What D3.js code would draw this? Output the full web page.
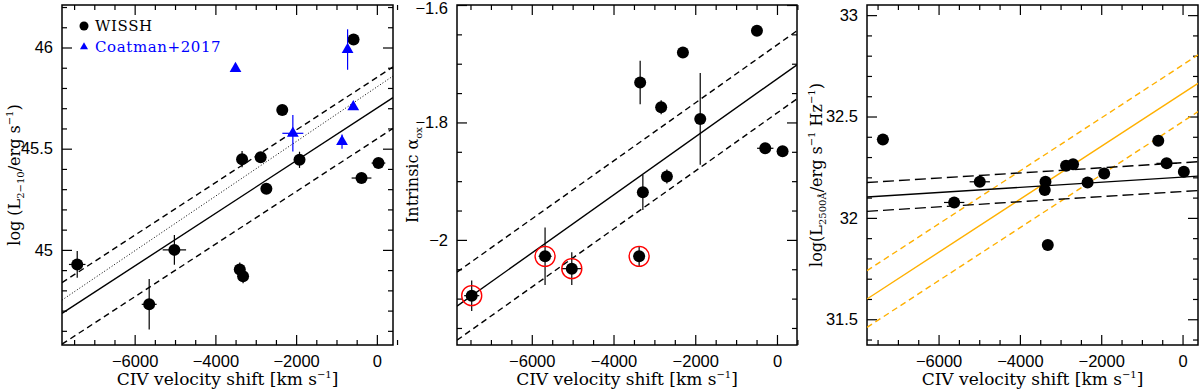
<!DOCTYPE html>
<html><head><meta charset="utf-8">
<script src="https://cdn.jsdelivr.net/npm/d3@7"></script>
<style>body{margin:0;background:#fff}svg{display:block}</style>
</head><body>
<svg id="c" width="1200" height="389"></svg>
<script>
// ---------------- DATA ----------------
// Panel 1: log L(2-10 keV) vs CIV velocity shift
const p1WisshX    = [-7423, -5640, -5016, -3396, -3314, -3339, -2878, -2343, -2737, -1916, -577, -380, 40];
const p1WisshY    = [44.928, 44.731, 45.0, 44.903, 44.870, 45.448, 45.458, 45.691, 45.302, 45.445, 46.039, 45.355, 45.429];
const p1WisshXErr = [205, 185, 290, 0, 0, 0, 80, 80, 100, 0, 60, 245, 170];
const p1WisshYErr = [0.066, 0.125, 0.074, 0.035, 0.035, 0.04, 0.012, 0.01, 0.012, 0.04, 0.01, 0.01, 0.01];
const p1CoatX     = [-3502, -2081, -725, -584, -863];
const p1CoatY     = [45.896, 45.576, 45.99, 45.707, 45.535];
const p1CoatXErr  = [0, 260, 0, 0, 0];
const p1CoatYErr  = [0, 0.09, 0.1, 0, 0.035];
// fit lines: [intercept at v=0, slope per km/s, scatter]
const p1Fit       = [45.70, 1.30e-4, 0.152];
const p1FitDotted = [45.805, 1.35e-4];

// Panel 2: intrinsic alpha_ox
const p2X    = [-7470, -5675, -5021, -3373, -3348, -3282, -2834, -2694, -2302, -1878, -490, -287, 137];
const p2Y    = [-2.095, -2.028, -2.049, -2.028, -1.732, -1.919, -1.774, -1.892, -1.681, -1.794, -1.644, -1.844, -1.849];
const p2XErr = [185, 160, 245, 60, 0, 0, 100, 100, 100, 0, 60, 200, 0];
const p2YErr = [0.026, 0.049, 0.028, 0.017, 0.037, 0.03, 0.012, 0.012, 0.005, 0.078, 0.005, 0.005, 0.005];
const p2Flag = [1, 1, 1, 1, 0, 0, 0, 0, 0, 0, 0, 0, 0];
const p2Fit  = [-1.726, 4.94e-5, 0.058];

// Panel 3: log L2500
const p3X    = [-7369, -5616, -4987, -3371, -3388, -3314, -2865, -2693, -2335, -1927, -597, -392, 32];
const p3Y    = [32.387, 32.076, 32.178, 32.178, 32.137, 31.866, 32.257, 32.265, 32.175, 32.219, 32.380, 32.269, 32.227];
const p3XErr = [150, 250, 250, 0, 0, 0, 0, 0, 0, 0, 0, 250, 0];
const p3YErr = [0.01, 0.01, 0.01, 0.01, 0.01, 0, 0.01, 0.01, 0.01, 0.01, 0.01, 0.01, 0];
const p3FitBlack  = [32.201, 1.26e-5, 0.071];
const p3FitOrange = [32.614, 1.307e-4, 0.14];

// ticks
const xMajor = [-6000, -4000, -2000, 0];
const xMinor = d3.range(-7500, 501, 500);
const p1YMajor = [45, 45.5, 46];
const p1YMinor = d3.range(44.6, 46.21, 0.1);
const p2YMajor = [-2, -1.8, -1.6];
const p2YMinor = d3.range(-2.15, -1.599, 0.05);
const p3YMajor = [31.5, 32, 32.5, 33];
const p3YMinor = d3.range(31.4, 33.06, 0.1);

// ---------------- DRAW ----------------
const svg = d3.select("#c");
const ORANGE = "#ffb000";
const TICKFONT = "'Liberation Sans', Arial, sans-serif";
const SERIF = "'DejaVu Serif', serif";

function makePanel(o) {
  const x = d3.scaleLinear().domain(o.xd).range([o.l, o.r]);
  const y = d3.scaleLinear().domain(o.yd).range([o.b, o.t]);
  const g = svg.append("g");
  const clipId = "clip" + o.id;
  svg.append("clipPath").attr("id", clipId).append("rect")
    .attr("x", o.l).attr("y", o.t).attr("width", o.r - o.l).attr("height", o.b - o.t);
  const axes = [
    [d3.axisBottom(x), o.b, "x", true],
    [d3.axisTop(x), o.t, "x", false],
    [d3.axisLeft(y), o.l, "y", true],
    [d3.axisRight(y), o.r, "y", false]
  ];
  axes.forEach(([ax, pos, dir, lab]) => {
    const major = dir === "x" ? xMajor : o.yMajor;
    const minor = (dir === "x" ? xMinor : o.yMinor).filter(v => !major.some(m => Math.abs(m - v) < 1e-6));
    const tr = dir === "x" ? `translate(0,${pos})` : `translate(${pos},0)`;
    const gm = g.append("g").attr("transform", tr)
      .call(ax.tickValues(minor).tickSize(-5).tickFormat(""));
    gm.select(".domain").remove();
    const gM = g.append("g").attr("transform", tr)
      .call(ax.tickValues(major).tickSize(-10).tickPadding(lab ? (dir === "x" ? 10 : 9) : 0)
        .tickFormat(lab ? (dir === "x" ? d3.format("") : o.yFmt) : ""));
    gM.select(".domain").remove();
    g.selectAll(".tick line").attr("stroke", "#000").attr("stroke-width", 1.2);
    gM.selectAll("text").attr("font-family", TICKFONT).attr("font-size", 16.5).attr("fill", "#000");
    if (dir === "y" && lab) {
      gM.selectAll(".tick text").filter(d => Math.abs(y(d) - o.t) < 1).attr("dy", "0.5em");
    }
  });
  g.append("rect").attr("x", o.l).attr("y", o.t).attr("width", o.r - o.l).attr("height", o.b - o.t)
    .attr("fill", "none").attr("stroke", "#000").attr("stroke-width", 1.5);

  const plot = svg.append("g").attr("clip-path", `url(#${clipId})`);
  // x title
  const xt = svg.append("text").attr("x", (o.l + o.r) / 2).attr("y", 385).attr("text-anchor", "middle")
    .attr("font-family", SERIF).attr("font-size", 17);
  xt.append("tspan").text("CIV velocity shift [km s");
  xt.append("tspan").attr("font-size", 10).attr("dy", -7).text("−1");
  xt.append("tspan").attr("dy", 7).text("]");
  // y title
  const yt = svg.append("text").attr("transform", `translate(${o.ylx},${(o.t + o.b) / 2}) rotate(-90)`)
    .attr("text-anchor", "middle").attr("font-family", SERIF).attr("font-size", 16);
  o.ylabel.forEach(([txt, kind]) => {
    const s = yt.append("tspan").text(txt);
    if (kind === "sub") s.attr("font-size", 10).attr("dy", 4);
    else if (kind === "sup") s.attr("font-size", 10).attr("dy", -7);
    else if (kind === "back-sub") s.attr("dy", -4);
    else if (kind === "back-sup") s.attr("dy", 7);
  });
  return { x, y, plot, g };
}

function fitLine(P, fit, off, style) {
  const xd = P.x.domain();
  const line = d3.line().x(d => P.x(d[0])).y(d => P.y(d[1]));
  P.plot.append("path")
    .attr("d", line(xd.map(v => [v, fit[0] + off + fit[1] * v])))
    .attr("fill", "none").attr("stroke", style.c).attr("stroke-width", style.w || 1.4)
    .attr("stroke-dasharray", style.dash || null);
}

function errBars(P, X, Y, XE, YE, color) {
  X.forEach((xv, i) => {
    if (XE[i] > 0) P.plot.append("line").attr("x1", P.x(xv - XE[i])).attr("x2", P.x(xv + XE[i]))
      .attr("y1", P.y(Y[i])).attr("y2", P.y(Y[i])).attr("stroke", color).attr("stroke-width", 1.2);
    if (YE[i] > 0) P.plot.append("line").attr("x1", P.x(xv)).attr("x2", P.x(xv))
      .attr("y1", P.y(Y[i] - YE[i])).attr("y2", P.y(Y[i] + YE[i])).attr("stroke", color).attr("stroke-width", 1.2);
  });
}
function dots(P, X, Y, r) {
  P.plot.selectAll(null).data(X).enter().append("circle")
    .attr("cx", d => P.x(d)).attr("cy", (d, i) => P.y(Y[i])).attr("r", r).attr("fill", "#000");
}

// ---- Panel 1 ----
const P1 = makePanel({
  id: 1, l: 62, r: 393, t: 5, b: 345, xd: [-7800, 400], yd: [44.53, 46.21],
  yMajor: p1YMajor, yMinor: p1YMinor, yFmt: d3.format("~g"), ylx: 20,
  ylabel: [["log (L"], ["2−10", "sub"], ["/erg s", "back-sub"], ["−1", "sup"], [")", "back-sup"]]
});
fitLine(P1, p1Fit, 0, { c: "#000" });
fitLine(P1, p1Fit, p1Fit[2], { c: "#000", dash: "6,4" });
fitLine(P1, p1Fit, -p1Fit[2], { c: "#000", dash: "6,4" });
fitLine(P1, p1FitDotted, 0, { c: "#000", dash: "1,2", w: 1 });
errBars(P1, p1WisshX, p1WisshY, p1WisshXErr, p1WisshYErr, "#000");
dots(P1, p1WisshX, p1WisshY, 6);
errBars(P1, p1CoatX, p1CoatY, p1CoatXErr, p1CoatYErr, "#0000ff");
const tri = d3.symbol().type(d3.symbolTriangle).size(60);
P1.plot.selectAll(null).data(p1CoatX).enter().append("path")
  .attr("d", tri).attr("fill", "#0000ff")
  .attr("transform", (d, i) => `translate(${P1.x(d)},${P1.y(p1CoatY[i])})`);
// legend
svg.append("circle").attr("cx", 84).attr("cy", 26).attr("r", 4.5).attr("fill", "#000");
svg.append("text").attr("x", 95).attr("y", 31).attr("font-family", SERIF).attr("font-size", 15)
  .attr("letter-spacing", 0.6).text("WISSH");
svg.append("path").attr("d", d3.symbol().type(d3.symbolTriangle).size(28))
  .attr("transform", "translate(84,47)").attr("fill", "#0000ff");
svg.append("text").attr("x", 95).attr("y", 52).attr("font-family", SERIF).attr("font-size", 15)
  .attr("letter-spacing", 0.6).attr("fill", "#0000ff").text("Coatman+2017");

// ---- Panel 2 ----
const P2 = makePanel({
  id: 2, l: 457, r: 797, t: 5, b: 345, xd: [-7830, 490], yd: [-2.179, -1.6],
  yMajor: p2YMajor, yMinor: p2YMinor, yFmt: d3.format("~g"), ylx: 418,
  ylabel: [["Intrinsic α"], ["ox", "sub"]]
});
fitLine(P2, p2Fit, 0, { c: "#000" });
fitLine(P2, p2Fit, p2Fit[2], { c: "#000", dash: "6,4" });
fitLine(P2, p2Fit, -p2Fit[2], { c: "#000", dash: "6,4" });
errBars(P2, p2X, p2Y, p2XErr, p2YErr, "#000");
dots(P2, p2X, p2Y, 6);
P2.plot.selectAll(null).data(p2X.filter((d, i) => p2Flag[i])).enter().append("circle")
  .attr("cx", d => P2.x(d)).attr("cy", d => P2.y(p2Y[p2X.indexOf(d)])).attr("r", 10)
  .attr("fill", "none").attr("stroke", "#ff0000").attr("stroke-width", 1.4);

// ---- Panel 3 ----
const P3 = makePanel({
  id: 3, l: 867, r: 1198, t: 5, b: 345, xd: [-7760, 380], yd: [31.373, 33.05],
  yMajor: p3YMajor, yMinor: p3YMinor, yFmt: d3.format("~g"), ylx: 822,
  ylabel: [["log(L"], ["2500Å", "sub"], ["/erg s", "back-sub"], ["−1", "sup"], [" Hz", "back-sup"], ["−1", "sup"], [")", "back-sup"]]
});
fitLine(P3, p3FitOrange, 0, { c: ORANGE });
fitLine(P3, p3FitOrange, p3FitOrange[2], { c: ORANGE, dash: "6,4" });
fitLine(P3, p3FitOrange, -p3FitOrange[2], { c: ORANGE, dash: "6,4" });
fitLine(P3, p3FitBlack, 0, { c: "#000" });
fitLine(P3, p3FitBlack, p3FitBlack[2], { c: "#000", dash: "11,5" });
fitLine(P3, p3FitBlack, -p3FitBlack[2], { c: "#000", dash: "11,5" });
errBars(P3, p3X, p3Y, p3XErr, p3YErr, "#000");
dots(P3, p3X, p3Y, 6);
</script>
</body></html>
